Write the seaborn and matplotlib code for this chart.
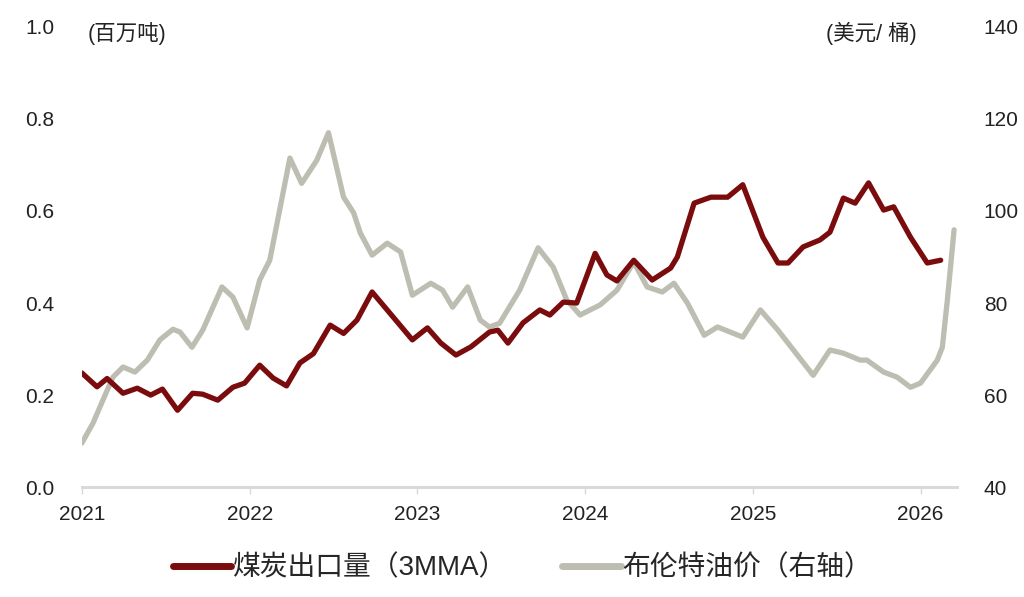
import numpy as np
import pandas as pd
import matplotlib
matplotlib.use("Agg")
import matplotlib.pyplot as plt
import seaborn as sns

# coal exports, 3MMA (million tonnes) - x in decimal years
coal_t = [2021.00, 2021.09, 2021.15, 2021.245, 2021.33, 2021.41, 2021.48, 2021.57, 2021.66, 2021.72,
          2021.81, 2021.90, 2021.97, 2022.06, 2022.14, 2022.22, 2022.30, 2022.38, 2022.48, 2022.56,
          2022.64, 2022.73, 2022.82, 2022.97, 2023.06, 2023.14, 2023.23, 2023.32, 2023.43, 2023.48,
          2023.54, 2023.63, 2023.73, 2023.79, 2023.87, 2023.95, 2024.06, 2024.13, 2024.19, 2024.29,
          2024.40, 2024.51, 2024.55, 2024.65, 2024.75, 2024.85, 2024.94, 2025.06, 2025.15, 2025.21,
          2025.30, 2025.40, 2025.46, 2025.54, 2025.61, 2025.69, 2025.78, 2025.84, 2025.94, 2026.04,
          2026.12]
coal_v = [0.248, 0.218, 0.236, 0.204, 0.215, 0.200, 0.213, 0.167, 0.204, 0.202,
          0.189, 0.217, 0.226, 0.265, 0.237, 0.220, 0.270, 0.290, 0.352, 0.334,
          0.363, 0.424, 0.385, 0.320, 0.346, 0.313, 0.287, 0.305, 0.337, 0.341,
          0.313, 0.357, 0.385, 0.374, 0.402, 0.400, 0.508, 0.461, 0.448, 0.493,
          0.450, 0.476, 0.500, 0.617, 0.630, 0.630, 0.657, 0.543, 0.487, 0.487,
          0.522, 0.537, 0.554, 0.628, 0.617, 0.661, 0.602, 0.609, 0.543, 0.487,
          0.493]

# Brent oil price (USD/bbl, right axis)
oil_t = [2021.00, 2021.066, 2021.125, 2021.185, 2021.245, 2021.316, 2021.39, 2021.465, 2021.543, 2021.585,
         2021.656, 2021.72, 2021.835, 2021.90, 2021.985, 2022.06, 2022.12, 2022.24, 2022.31, 2022.40,
         2022.47, 2022.56, 2022.62, 2022.66, 2022.73, 2022.82, 2022.90, 2022.97, 2023.08, 2023.15,
         2023.21, 2023.30, 2023.375, 2023.43, 2023.49, 2023.61, 2023.72, 2023.81, 2023.89, 2023.97,
         2024.09, 2024.19, 2024.29, 2024.37, 2024.46, 2024.53, 2024.61, 2024.71, 2024.79, 2024.94,
         2025.045, 2025.15, 2025.36, 2025.46, 2025.54, 2025.64, 2025.68, 2025.78, 2025.86, 2025.94,
         2026.00, 2026.10, 2026.13, 2026.16, 2026.20]
oil_v = [49.6, 53.9, 58.9, 63.9, 66.1, 65.0, 67.6, 72.0, 74.3, 73.7,
         70.4, 74.1, 83.5, 81.3, 74.6, 85.0, 89.3, 111.5, 106.0, 111.0,
         117.0, 103.0, 99.6, 95.2, 90.4, 93.0, 91.1, 81.7, 84.3, 82.8,
         79.1, 83.5, 76.3, 74.8, 75.6, 82.8, 92.0, 87.8, 80.7, 77.4,
         79.6, 82.8, 88.9, 83.5, 82.4, 84.3, 80.0, 73.0, 74.8, 72.6,
         78.5, 74.1, 64.3, 69.8, 69.1, 67.6, 67.6, 65.0, 63.9, 61.7,
         62.6, 67.6, 70.4, 80.7, 95.9]

years = [2021, 2022, 2023, 2024, 2025, 2026]

coal = pd.DataFrame({'t': coal_t, 'v': coal_v})
oil = pd.DataFrame({'t': oil_t, 'v': oil_v})

sns.set_theme(style='white')
plt.rcParams['font.family'] = ['Liberation Sans', 'Noto Sans CJK SC', 'DejaVu Sans']

red = '#7a0c0e'
grey = '#bdbdb1'
txt = '#222222'

fig = plt.figure(figsize=(10.24, 5.97), dpi=100)
ax = fig.add_axes([0.080, 0.184, 0.855, 0.771])
ax2 = ax.twinx()

sns.lineplot(data=oil, x='t', y='v', ax=ax2, color=grey, lw=3.8, label='布伦特油价（右轴）', legend=False)
sns.lineplot(data=coal, x='t', y='v', ax=ax, color=red, lw=3.8, label='煤炭出口量（3MMA）', legend=False)

# draw coal on top of oil
ax.set_zorder(ax2.get_zorder() + 1)
ax.patch.set_visible(False)

ax.set_xlim(2021, 2026.22)
ax.set_ylim(0, 1.0)
ax2.set_ylim(40, 140)
ax.set_xticks(years)
ax.set_xticklabels([str(y) for y in years])
ax.set_yticks(np.arange(0, 1.01, 0.2))
ax.set_yticklabels(['%.1f' % v for v in np.arange(0, 1.01, 0.2)])
ax2.set_yticks(np.arange(40, 141, 20))
ax.set_xlabel('')
ax.set_ylabel('')
ax2.set_ylabel('')

for a in (ax, ax2):
    for s in a.spines.values():
        s.set_visible(False)
ax.spines['bottom'].set_visible(True)
ax.spines['bottom'].set_color('#d9d9d9')
ax.spines['bottom'].set_linewidth(2.2)

ax.tick_params(axis='x', bottom=True, length=5, width=1, color='#d9d9d9', labelsize=15,
               labelcolor=txt, pad=8)
ax.tick_params(axis='y', left=False, labelsize=15, labelcolor=txt, pad=14)
ax2.tick_params(axis='y', right=False, labelsize=15, labelcolor=txt, pad=13)
ax.grid(False)
ax2.grid(False)

ax.text(0.007, 0.985, '(百万吨)', transform=ax.transAxes, ha='left', va='center',
        fontsize=15.5, color=txt)
ax2.text(0.953, 0.985, '(美元/ 桶)', transform=ax.transAxes, ha='right', va='center',
         fontsize=15.5, color=txt)

h1, l1 = ax.get_legend_handles_labels()
h2, l2 = ax2.get_legend_handles_labels()
leg = fig.legend(h1 + h2, l1 + l2, loc='center', bbox_to_anchor=(0.51, 0.048), ncol=2,
                 frameon=False, fontsize=20, handlelength=2.1, handletextpad=0.05,
                 columnspacing=2.0)
for line in leg.get_lines():
    line.set_linewidth(5)

plt.savefig('out.png', dpi=100)
